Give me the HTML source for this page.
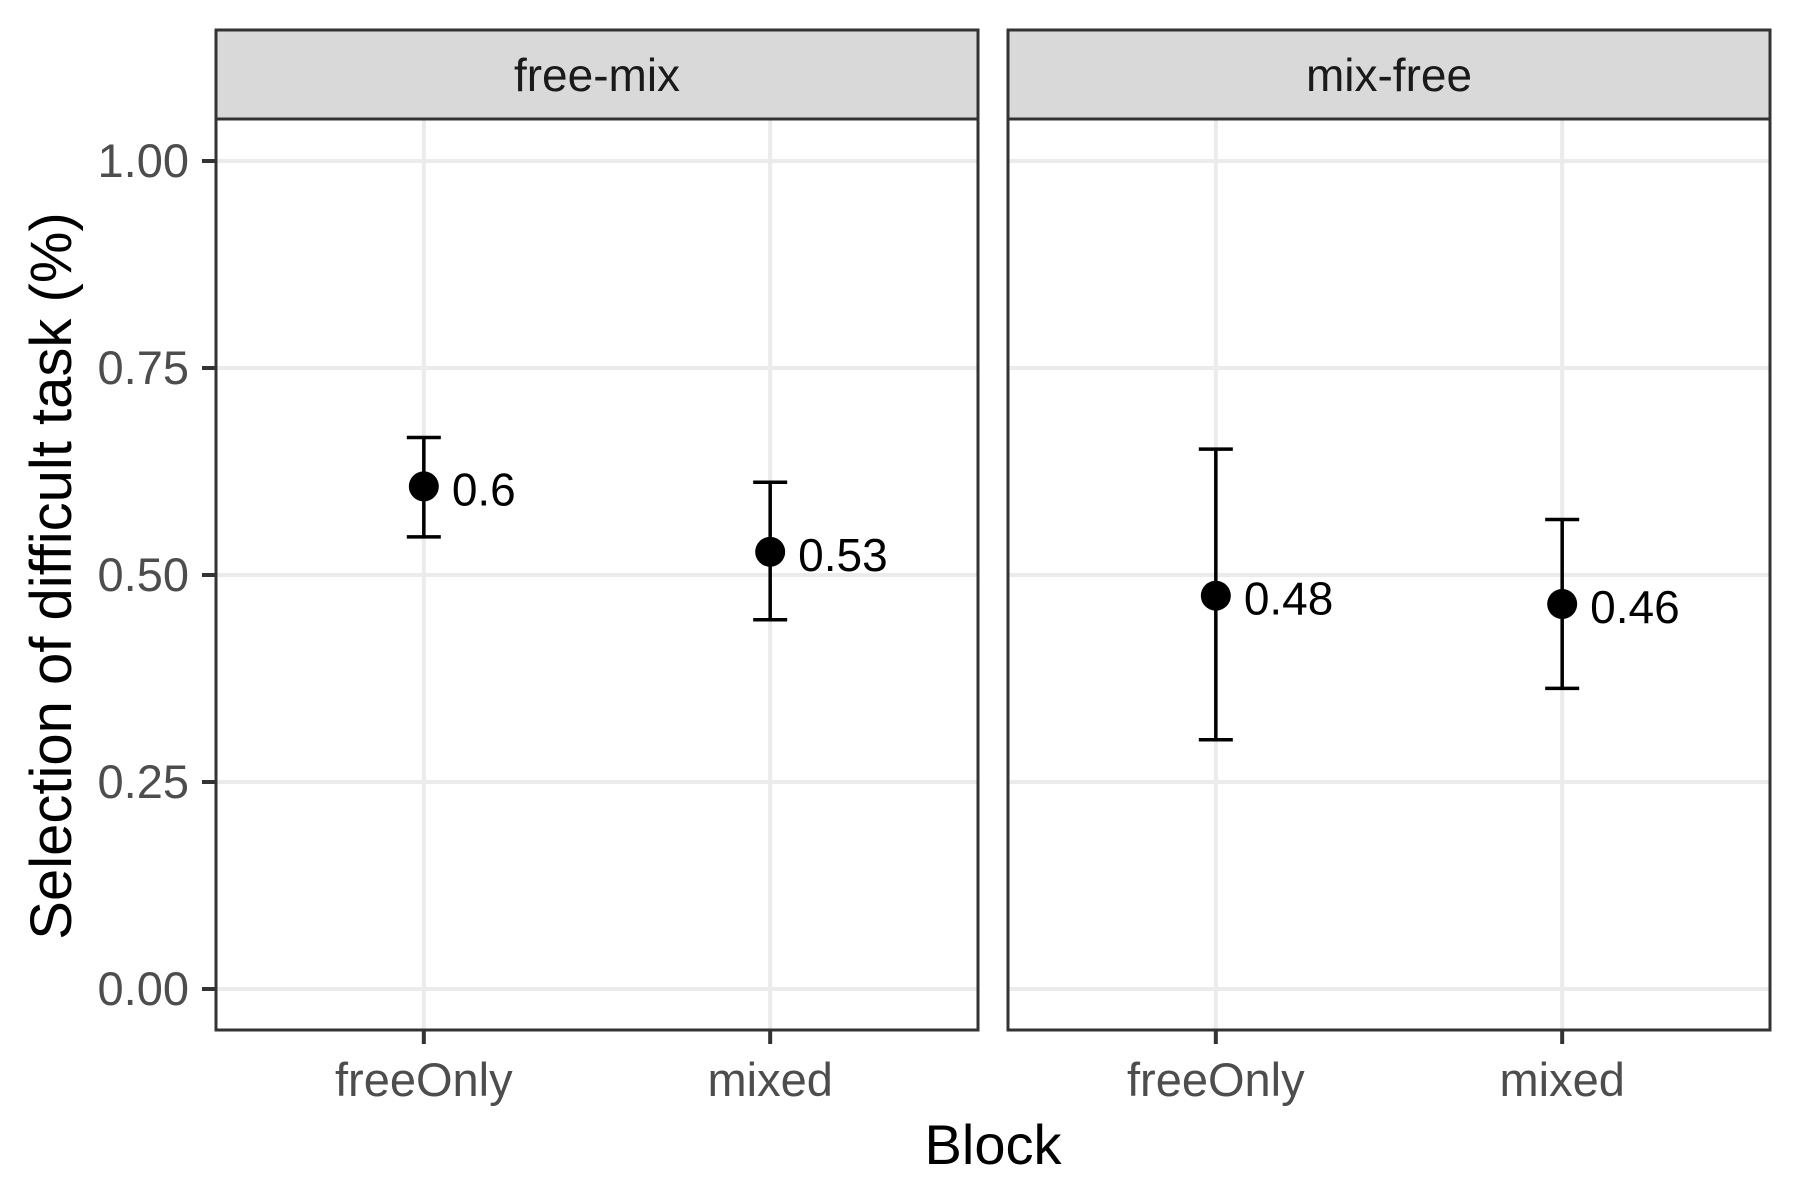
<!DOCTYPE html>
<html><head><meta charset="utf-8"><style>
body{margin:0;background:#fff}
svg{display:block;font-family:"Liberation Sans",Arial,sans-serif}
</style></head><body>
<svg id="chart" width="1800" height="1200" viewBox="0 0 1800 1200">
<text x="993" y="1164" font-size="56" text-anchor="middle" fill="#000">Block</text>
<text transform="translate(71,576) rotate(-90)" font-size="58" text-anchor="middle" fill="#000">Selection of difficult task (%)</text>
</svg>
<script>
const panels = ["free-mix","mix-free"];
const categories = ["freeOnly","mixed"];
const means = [[0.607,0.528],[0.475,0.465]];
const lowers = [[0.546,0.446],[0.301,0.363]];
const uppers = [[0.666,0.612],[0.652,0.567]];
const labels = [["0.6","0.53"],["0.48","0.46"]];
const yTicks = [0,0.25,0.5,0.75,1];
const yTickLabels = ["0.00","0.25","0.50","0.75","1.00"];

const NS="http://www.w3.org/2000/svg";
const svg=document.getElementById('chart');
const panelX=[216,1008], panelW=762, panelTop=119, panelBottom=1030, stripTop=30;
function y(v){return 989-(v)*828;}
function x(p,i){return panelX[p]+panelW*(0.6+i)/2.2;}
function mk(tag,attrs,parent){const e=document.createElementNS(NS,tag);for(const k in attrs)e.setAttribute(k,attrs[k]);(parent||svg).appendChild(e);return e;}

panels.forEach((name,p)=>{
  const g=mk('g',{});
  
  
  yTicks.forEach(t=>{const l=mk('line',{x1:panelX[p],x2:panelX[p]+panelW,y1:y(t),y2:y(t),stroke:'#ebebeb','stroke-width':4},g);
    
    });
  categories.forEach((c,i)=>{const l=mk('line',{x1:x(p,i),x2:x(p,i),y1:panelTop,y2:panelBottom,stroke:'#ebebeb','stroke-width':4},g);
    
    
    const tk=mk('line',{x1:x(p,i),x2:x(p,i),y1:panelBottom,y2:panelBottom+14,stroke:'#333','stroke-width':4},g);
    
    
    const tl=mk('text',{x:x(p,i),y:1096,'font-size':47,'text-anchor':'middle',fill:'#4d4d4d'},g);tl.textContent=c;
    
    });
  const strip=mk('rect',{x:panelX[p],y:stripTop,width:panelW,height:panelTop-stripTop,fill:'#d9d9d9',stroke:'#333','stroke-width':3},g);
  
  
  const st=mk('text',{x:panelX[p]+panelW/2,y:91,'font-size':46,'text-anchor':'middle',fill:'#1a1a1a'},g);st.textContent=name;
  
  
  const border=mk('rect',{x:panelX[p],y:panelTop,width:panelW,height:panelBottom-panelTop,fill:'none',stroke:'#333','stroke-width':3},g);
  
  
  categories.forEach((c,i)=>{
    const cx=x(p,i);
    const eb=mk('path',{d:`M${cx-17},${y(uppers[p][i])}H${cx+17}M${cx},${y(uppers[p][i])}V${y(lowers[p][i])}M${cx-17},${y(lowers[p][i])}H${cx+17}`,stroke:'#000','stroke-width':3.5,fill:'none'},g);
    
    
    const pt=mk('circle',{cx:cx,cy:y(means[p][i]),r:15,fill:'#000'},g);
    
    
    const lb=mk('text',{x:cx+28,y:y(means[p][i])+19,'font-size':46,fill:'#000'},g);lb.textContent=labels[p][i];
    
    
  });
});
yTicks.forEach((t,k)=>{
  const tk=mk('line',{x1:202,x2:216,y1:y(t),y2:y(t),stroke:'#333','stroke-width':4});
  
  
  const tl=mk('text',{x:189,y:y(t)+16,'font-size':47,'text-anchor':'end',fill:'#4d4d4d'});tl.textContent=yTickLabels[k];
  
  
});
</script>
</body></html>
